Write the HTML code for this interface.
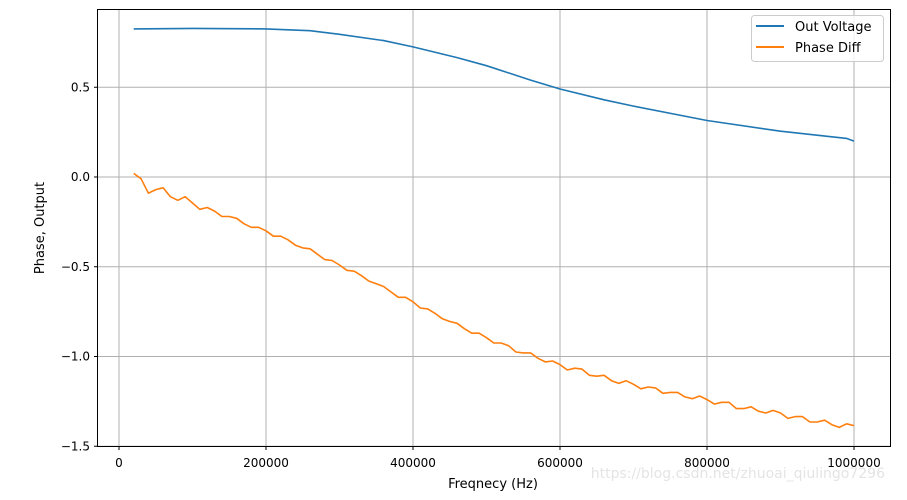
<!DOCTYPE html>
<html><head><meta charset="utf-8"><style>
body{margin:0;background:#fff;width:907px;height:500px;overflow:hidden}
svg{display:block;font-family:"DejaVu Sans","Liberation Sans",sans-serif}
</style></head><body>
<svg id="chart" width="907" height="500" xmlns="http://www.w3.org/2000/svg">
<g id="grid"></g>
<g id="series"></g>
<rect x="97.5" y="9.5" width="793" height="437" fill="none" stroke="#000" stroke-width="1"/>
<g id="ticks"></g>
<text x="493" y="488" font-size="13" text-anchor="middle">Freqnecy (Hz)</text>
<text transform="translate(44,228) rotate(-90)" font-size="13" text-anchor="middle">Phase, Output</text>
<g>
<rect x="751.5" y="15.5" width="132" height="46" rx="3" fill="#fff" fill-opacity="0.8" stroke="#ccc"/>
<g><line x1="756" y1="26" x2="784" y2="26" stroke="#1f77b4" stroke-width="2"/><text x="795" y="31" font-size="13">Out Voltage</text></g>
<g><line x1="756" y1="47" x2="784" y2="47" stroke="#ff7f0e" stroke-width="2"/><text x="795" y="52" font-size="13">Phase Diff</text></g>
</g>
<text x="885" y="478" font-size="14" text-anchor="end" fill="#e4e4e4">https://blog.csdn.net/zhuoai_qiulingo7296</text>
</svg>
<script>
const xTicks=[0,200000,400000,600000,800000,1000000];
const yTicks=[0.5,0.0,-0.5,-1.0,-1.5];
const yTickLabels=["0.5","0.0","\u22120.5","\u22121.0","\u22121.5"];
const voltFreq=[20000,100000,200000,260000,300000,360000,400000,460000,500000,560000,600000,660000,700000,800000,900000,990000,1000000];
const voltVals=[0.825,0.828,0.825,0.815,0.795,0.76,0.725,0.665,0.62,0.54,0.49,0.43,0.395,0.315,0.255,0.215,0.2];
const phaseVals=[0.02,-0.01,-0.09,-0.07,-0.06,-0.11,-0.13,-0.11,-0.145,-0.18,-0.17,-0.19,-0.22,-0.22,-0.23,-0.26,-0.28,-0.28,-0.30,-0.33,-0.33,-0.35,-0.38,-0.395,-0.40,-0.43,-0.46,-0.465,-0.49,-0.52,-0.525,-0.55,-0.58,-0.595,-0.61,-0.64,-0.67,-0.67,-0.695,-0.73,-0.735,-0.76,-0.79,-0.805,-0.815,-0.845,-0.87,-0.87,-0.895,-0.925,-0.925,-0.94,-0.975,-0.98,-0.98,-1.01,-1.03,-1.025,-1.045,-1.075,-1.065,-1.07,-1.105,-1.11,-1.105,-1.135,-1.15,-1.135,-1.155,-1.18,-1.17,-1.175,-1.205,-1.2,-1.2,-1.225,-1.235,-1.22,-1.24,-1.265,-1.255,-1.255,-1.29,-1.29,-1.28,-1.305,-1.315,-1.30,-1.315,-1.345,-1.335,-1.335,-1.365,-1.365,-1.355,-1.38,-1.395,-1.375,-1.385];
const phaseStart=20000, phaseStep=10000;
const NS="http://www.w3.org/2000/svg";
const xs=v=>119+v*(735/1000000);
const ys=v=>177-v*179.5;
function mk(tag,attrs,parent){const e=document.createElementNS(NS,tag);for(const k in attrs)e.setAttribute(k,attrs[k]);parent.appendChild(e);return e;}
const grid=document.getElementById('grid'),ticks=document.getElementById('ticks'),series=document.getElementById('series');
xTicks.forEach(t=>{const x=xs(t);
 const g=mk('line',{x1:x,x2:x,y1:9.5,y2:446.5,stroke:'#b0b0b0','stroke-width':1},grid);
 
 
 mk('line',{x1:x,x2:x,y1:446.5,y2:450,stroke:'#000'},ticks);
 const l=mk('text',{x:x,y:467,'font-size':12,'text-anchor':'middle'},ticks);l.textContent=String(t);
 
 
});
yTicks.forEach((t,i)=>{const y=ys(t);
 const g=mk('line',{x1:97.5,x2:890.5,y1:y,y2:y,stroke:'#b0b0b0','stroke-width':1},grid);
 
 
 mk('line',{x1:94,x2:97.5,y1:y,y2:y,stroke:'#000'},ticks);
 const l=mk('text',{x:90,y:y+4,'font-size':12,'text-anchor':'end'},ticks);l.textContent=yTickLabels[i];
 
 
});
const vp=voltFreq.map((f,i)=>xs(f).toFixed(1)+','+ys(voltVals[i]).toFixed(1)).join(' ');
const vl=mk('polyline',{points:vp,fill:'none',stroke:'#1f77b4','stroke-width':1.6},series);


const pp=phaseVals.map((v,i)=>xs(phaseStart+i*phaseStep).toFixed(1)+','+ys(v).toFixed(1)).join(' ');
const pl=mk('polyline',{points:pp,fill:'none',stroke:'#ff7f0e','stroke-width':1.6,'stroke-linejoin':'round'},series);


</script>
</body></html>
